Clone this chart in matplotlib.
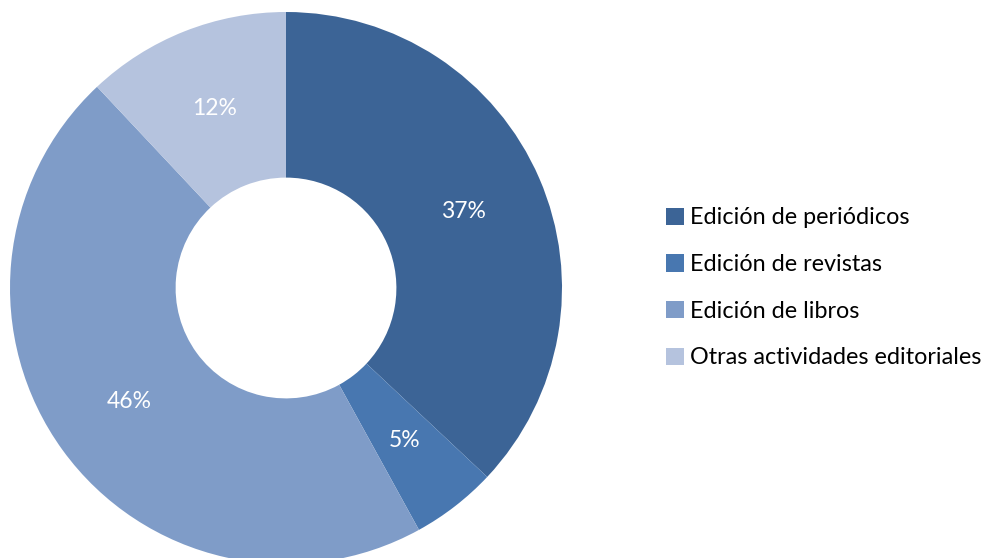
import matplotlib.pyplot as plt
from matplotlib.patches import Patch

# data
categorias = ['Edición de periódicos', 'Edición de revistas', 'Edición de libros',
              'Otras actividades editoriales']
porcentajes = [37, 5, 46, 12]
colores = ['#3C6496', '#4877B0', '#7F9CC8', '#B5C3DE']

plt.rcParams['font.family'] = ['Lato', 'DejaVu Sans']

fig = plt.figure(figsize=(9.85, 5.58), dpi=100)
R = 276.0
ax = fig.add_axes([0, 0, 572 / 985, 1])
wedges, textos, autotextos = ax.pie(
    porcentajes, colors=colores, startangle=90, counterclock=False,
    radius=1, autopct='%1.0f%%', pctdistance=0.7,
    wedgeprops=dict(width=0.6, edgecolor='none', linewidth=0),
    textprops=dict(color='white', fontsize=16.5))
ax.set_xlim(-286 / R, 286 / R)
ax.set_ylim(-270 / R, 288 / R)
ax.set_aspect('auto')
ax.axis('off')

handles = [Patch(facecolor=c, edgecolor='none') for c in colores]
fig.legend(handles, categorias, loc='center left', bbox_to_anchor=(666 / 985, 1 - 288 / 558),
           frameon=False, fontsize=16.8, handlelength=0.75, handleheight=0.75,
           handletextpad=0.3, labelspacing=1.1, borderaxespad=0, borderpad=0)

fig.savefig('out.png', dpi=100)
